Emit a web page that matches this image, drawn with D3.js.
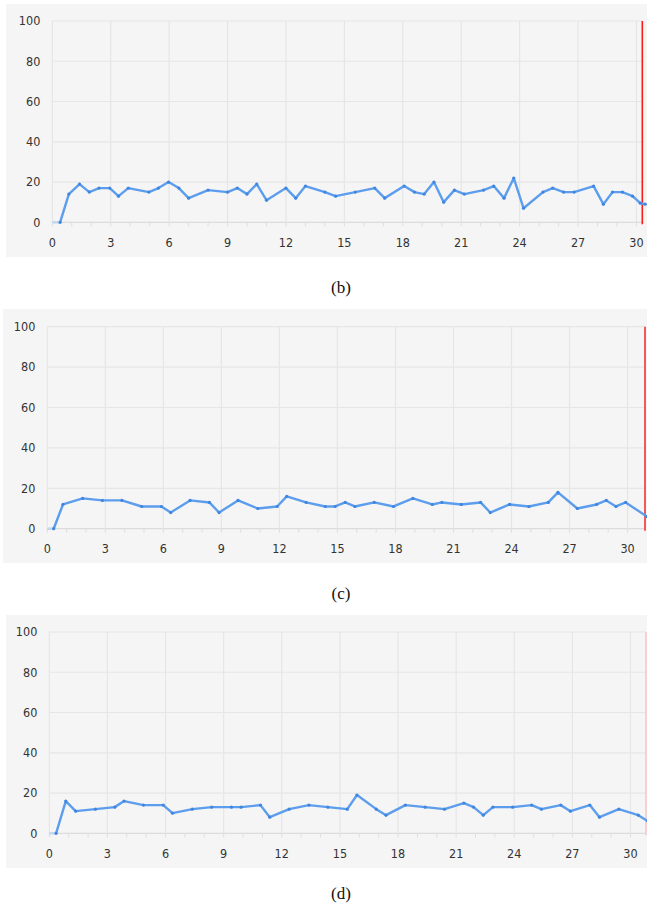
<!DOCTYPE html>
<html><head><meta charset="utf-8">
<script src="https://cdn.jsdelivr.net/npm/d3@7"></script>
<style>body{margin:0;background:#fff}svg{display:block}</style>
</head><body>
<svg id="c" width="647" height="911"></svg>
<script>
// ---- data ----
const captions = ["(b)", "(c)", "(d)"];
const xTicks = [0, 3, 6, 9, 12, 15, 18, 21, 24, 27, 30];
const yTicks = [0, 20, 40, 60, 80, 100];
const markerX = [30.3, 30.9, 30.8];

const bX = [0, 0.4, 0.85, 1.4, 1.9, 2.4, 2.95, 3.4, 3.9, 4.96, 5.45, 5.97, 6.5, 7.0, 8.0, 9.0, 9.5, 10.0, 10.5, 11.0, 12.0, 12.5, 13.0, 14.0, 14.55, 15.56, 16.56, 17.07, 18.07, 18.6, 19.1, 19.6, 20.1, 20.65, 21.16, 22.15, 22.67, 23.2, 23.7, 24.2, 25.2, 25.7, 26.26, 26.8, 27.8, 28.3, 28.77, 29.28, 29.8, 30.2, 30.45];
const bY = [0, 0, 14, 19, 15, 17, 17, 13, 17, 15, 17, 20, 17, 12, 16, 15, 17, 14, 19, 11, 17, 12, 18, 15, 13, 15, 17, 12, 18, 15, 14, 20, 10, 16, 14, 16, 18, 12, 22, 7, 15, 17, 15, 15, 18, 9, 15, 15, 13, 9.5, 9];

const cX = [0, 0.33, 0.81, 1.83, 2.85, 3.86, 4.88, 5.9, 6.38, 7.38, 8.38, 8.88, 9.86, 10.88, 11.88, 12.38, 13.38, 14.37, 14.88, 15.4, 15.9, 16.9, 17.9, 18.9, 19.9, 20.4, 21.4, 22.4, 22.9, 23.9, 24.9, 25.9, 26.4, 27.4, 28.4, 28.9, 29.4, 29.9, 31.0];
const cY = [0, 0, 12, 15, 14, 14, 11, 11, 8, 14, 13, 8, 14, 10, 11, 16, 13, 11, 11, 13, 11, 13, 11, 15, 12, 13, 12, 13, 8, 12, 11, 13, 18, 10, 12, 14, 11, 13, 6];

const dX = [0, 0.35, 0.85, 1.36, 2.38, 3.38, 3.86, 4.86, 5.88, 6.36, 7.38, 8.38, 9.4, 9.9, 10.9, 11.38, 12.38, 13.4, 14.38, 15.38, 15.88, 16.88, 17.38, 18.38, 19.4, 20.4, 21.4, 21.9, 22.4, 22.9, 23.92, 24.9, 25.4, 26.4, 26.9, 27.9, 28.4, 29.4, 30.4, 30.9];
const dY = [0, 0, 16, 11, 12, 13, 16, 14, 14, 10, 12, 13, 13, 13, 14, 8, 12, 14, 13, 12, 19, 12, 9, 14, 13, 12, 15, 13, 9, 13, 13, 14, 12, 14, 11, 14, 8, 12, 9, 6];

const seriesX = [bX, cX, dX];
const seriesY = [bY, cY, dY];

// ---- layout (styles/positions) ----
const panels = [
  {bg:[6,4,641,253], xr:[52.3,642.3], yr:[222.3,21], cap:287, red:"#ff1a1a", redW:1.6},
  {bg:[3,309,644,254], xr:[47.3,645], yr:[528.7,326.7], cap:593, red:"#f05a5a", redW:2},
  {bg:[6,615,641,253], xr:[49.3,646], yr:[833.3,632], cap:893, red:"#f6c4c4", redW:1.5}
];

const svg = d3.select("#c");
const tickFont = "'DejaVu Sans Condensed','DejaVu Sans',sans-serif";

panels.forEach((p, i) => {
  const g = svg.append("g");
  g.append("rect").attr("x", p.bg[0]).attr("y", p.bg[1]).attr("width", p.bg[2]).attr("height", p.bg[3]).attr("fill", "#f5f5f5");

  const x = d3.scaleLinear().domain([0, markerX[i]]).range(p.xr);
  const y = d3.scaleLinear().domain([0, 100]).range(p.yr);

  g.selectAll(".hg").data(yTicks).join("line")
    .attr("x1", x(0)).attr("x2", p.xr[1])
    .attr("y1", d => y(d)).attr("y2", d => y(d))
    .attr("stroke", d => d === 0 ? "#dcdcdc" : "#e6e6e6").attr("stroke-width", 1.2);
  g.selectAll(".vg").data(xTicks).join("line")
    .attr("x1", d => x(d)).attr("x2", d => x(d))
    .attr("y1", y(100)).attr("y2", y(0))
    .attr("stroke", "#e6e6e6").attr("stroke-width", 1.2);
  const minor = d3.range(0, Math.floor(markerX[i]) + 1);
  g.selectAll(".mt").data(minor).join("line")
    .attr("x1", d => x(d)).attr("x2", d => x(d))
    .attr("y1", y(0)).attr("y2", y(0) + 4)
    .attr("stroke", "#dedede").attr("stroke-width", 1);

  g.selectAll(".yl").data(yTicks).join("text")
    .attr("x", x(0) - 12).attr("y", d => y(d)).attr("dy", "0.35em")
    .attr("text-anchor", "end").attr("font-family", tickFont).attr("font-size", 12.5)
    .attr("fill", "#333").text(d => d);
  g.selectAll(".xl").data(xTicks).join("text")
    .attr("x", d => x(d)).attr("y", y(0) + 20).attr("dy", "0.35em")
    .attr("text-anchor", "middle").attr("font-family", tickFont).attr("font-size", 12.5)
    .attr("fill", "#333").text(d => d);

  g.append("line").attr("x1", x(markerX[i])).attr("x2", x(markerX[i]))
    .attr("y1", y(100)).attr("y2", y(0) + 2)
    .attr("stroke", p.red).attr("stroke-width", p.redW);

  const pts = seriesX[i].map((v, k) => [v, seriesY[i][k]]);
  const line = d3.line().x(d => x(d[0])).y(d => y(d[1]));
  g.append("path").attr("d", line(pts.slice(0, 2))).attr("fill", "none")
    .attr("stroke", "#c4d7ef").attr("stroke-width", 2.6);
  g.append("path").attr("d", line(pts.slice(1))).attr("fill", "none")
    .attr("stroke", "#5c9ded").attr("stroke-width", 2.4).attr("stroke-linejoin", "round");
  g.selectAll(".pt").data(pts.slice(1)).join("circle")
    .attr("cx", d => x(d[0])).attr("cy", d => y(d[1])).attr("r", 1.6)
    .attr("fill", "#3f86e0");

  svg.append("text").attr("x", 341).attr("y", p.cap).attr("dy", "0.35em")
    .attr("text-anchor", "middle").attr("font-family", "'Liberation Serif','Times New Roman',serif")
    .attr("font-size", 17).attr("fill", "#111").text(captions[i]);
});
</script>
</body></html>
